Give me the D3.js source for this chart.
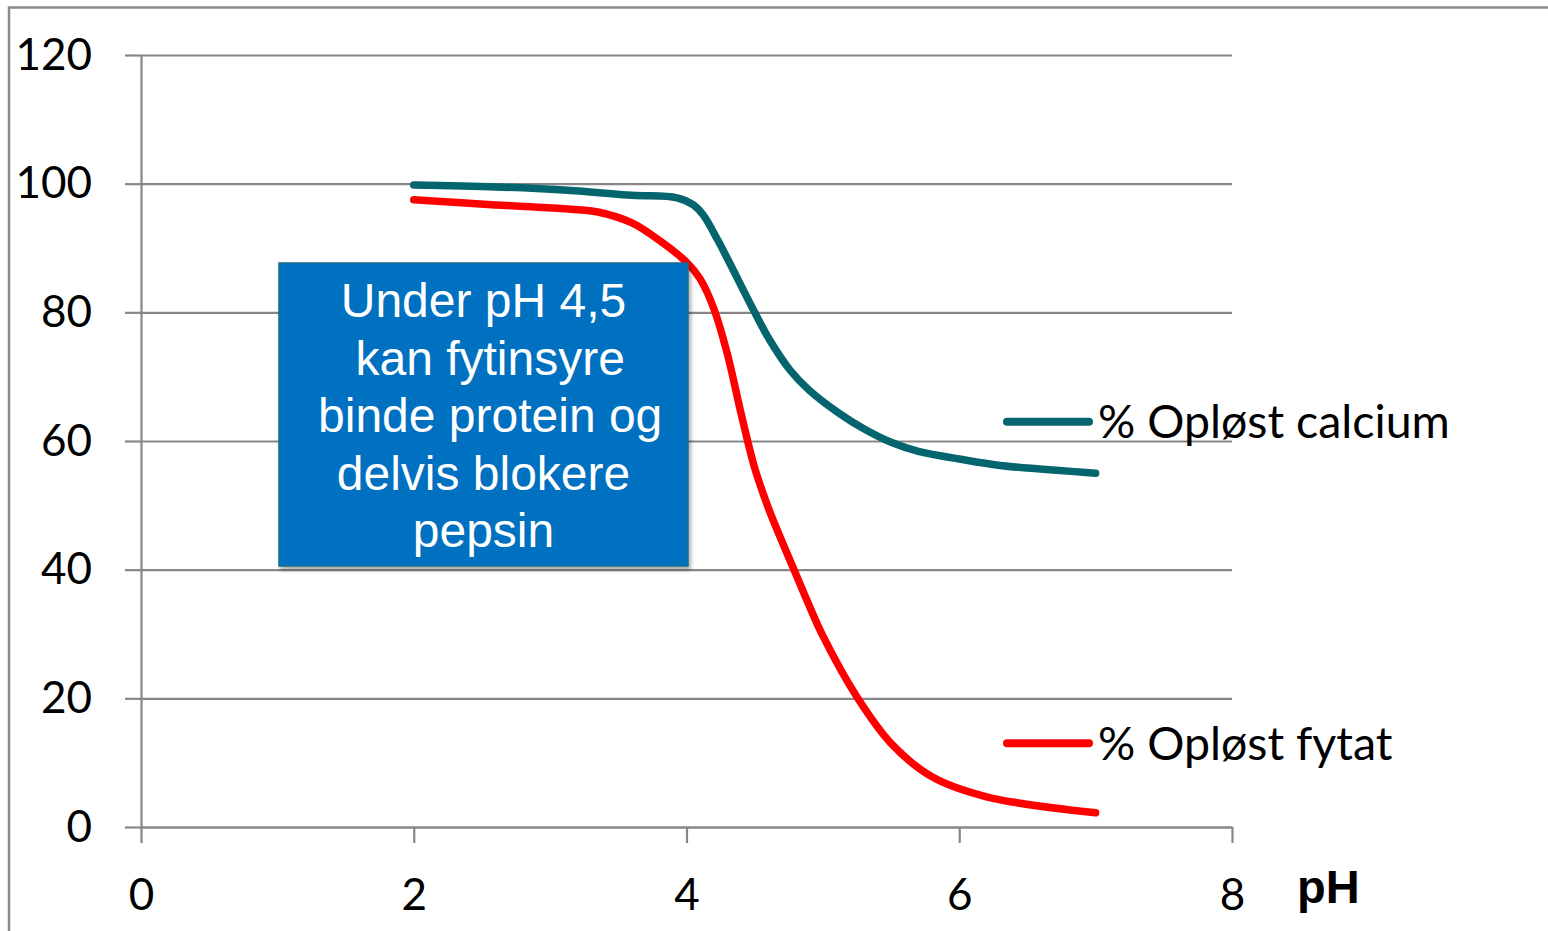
<!DOCTYPE html>
<html>
<head>
<meta charset="utf-8">
<script src="https://cdn.jsdelivr.net/npm/d3@7"></script>
<style>
  body { margin: 0; background: #fff; }
  svg { display: block; }
  .tick text { font-family: Lato, "Open Sans", sans-serif; font-size: 44px; fill: #000; }
</style>
</head>
<body>
<div class="container"></div>
<script>
// values
let xTicks = [0, 2, 4, 6, 8]
let yTicks = [0, 20, 40, 60, 80, 100, 120]

let calciumPH = [2, 2.6, 3.1, 3.6, 3.93, 4.05, 4.12, 4.23, 4.5, 4.61, 4.76, 4.9, 5.12, 5.3, 5.5, 5.7, 6.0, 6.3, 7.0]
let calciumVal = [99.8, 99.5, 99.0, 98.2, 97.8, 96.7, 95.2, 91.2, 80.0, 75.7, 71.0, 67.9, 64.3, 61.9, 59.8, 58.4, 57.2, 56.2, 55]

let fytatPH = [2, 2.6, 3.1, 3.35, 3.6, 3.8, 4.0, 4.1, 4.2, 4.3, 4.4, 4.5, 4.6, 4.7, 4.8, 4.9, 5.0, 5.25, 5.5, 5.8, 6.2, 7.0]
let fytatVal = [97.5, 96.7, 96.1, 95.6, 93.9, 91.2, 87.8, 85.2, 80.6, 73.5, 64.3, 55.8, 49.6, 44.4, 39.4, 34.4, 29.7, 20.2, 13, 7.8, 4.7, 2.2]

let seriesNames = ['% Opløst calcium', '% Opløst fytat']
let seriesColors = ['#05656f', '#ff0000']
let legendY = [63, 13]   // legend row positions in data units

let noteLines = ['Under pH 4,5', ' kan fytinsyre', ' binde protein og', 'delvis blokere', 'pepsin']

let width = 1548
let height = 931
let margin = { top: 55, left: 141, right: 316, bottom: 104 }

let x = d3.scaleLinear().domain([0, 8]).range([margin.left, width - margin.right])
let y = d3.scaleLinear().domain([0, 120]).range([height - margin.bottom, margin.top])

let svg = d3.select('.container')
    .append('svg')
    .attr('width', width)
    .attr('height', height)

// outer chart frame
svg.append('rect')
    .attr('x', 9).attr('y', 7.5)
    .attr('width', width + 20).attr('height', height + 20)
    .attr('fill', 'none')
    .attr('stroke', '#8a8a8a')
    .attr('stroke-width', 2.5)

// horizontal gridlines
svg.append('g')
    .attr('transform', `translate(${margin.left},0)`)
    .call(d3.axisLeft(y).tickValues(yTicks).tickSize(-(x(8) - x(0))).tickFormat(''))
    .call(g => g.select('.domain').remove())
    .selectAll('line')
    .attr('stroke', '#878787')
    .attr('stroke-width', 2.2)

// y axis
svg.append('g')
    .attr('transform', `translate(${margin.left},0)`)
    .call(d3.axisLeft(y).tickValues(yTicks).tickSize(16).tickSizeOuter(0).tickPadding(33))
    .call(g => g.selectAll('line, .domain').attr('stroke', '#878787').attr('stroke-width', 2.2))

// x axis
svg.append('g')
    .attr('transform', `translate(0,${y(0)})`)
    .call(d3.axisBottom(x).tickValues(xTicks).tickSize(16).tickSizeOuter(0).tickPadding(36))
    .call(g => g.selectAll('line, .domain').attr('stroke', '#878787').attr('stroke-width', 2.2))

svg.append('text')
    .attr('x', 1297)
    .attr('y', 903)
    .attr('font-family', '"Liberation Sans", Arial, sans-serif')
    .attr('font-weight', 'bold')
    .attr('font-size', 47)
    .text('pH')

// lines
let line = d3.line()
    .x(d => x(d[0]))
    .y(d => y(d[1]))
    .curve(d3.curveCatmullRom.alpha(0.5))

let series = [
    d3.zip(calciumPH, calciumVal),
    d3.zip(fytatPH, fytatVal)
]

svg.selectAll('path.series')
    .data(series)
    .enter()
    .append('path')
    .attr('class', 'series')
    .attr('d', line)
    .attr('fill', 'none')
    .attr('stroke', (d, i) => seriesColors[i])
    .attr('stroke-width', 7.5)
    .attr('stroke-linecap', 'round')
    .attr('stroke-linejoin', 'round')

// legend
let legend = svg.selectAll('g.legend')
    .data(seriesNames)
    .enter()
    .append('g')
    .attr('class', 'legend')
    .attr('transform', (d, i) => `translate(0,${y(legendY[i])})`)

legend.append('line')
    .attr('x1', 1007).attr('x2', 1089)
    .attr('stroke', (d, i) => seriesColors[i])
    .attr('stroke-width', 8)
    .attr('stroke-linecap', 'round')

legend.append('text')
    .attr('x', 1098)
    .attr('dy', '0.35em')
    .attr('font-family', 'Lato, "Open Sans", sans-serif')
    .attr('font-size', 46.5)
    .text(d => d)

// note box
let filter = svg.append('defs').append('filter')
    .attr('id', 'shadow')
    .attr('x', '-10%').attr('y', '-10%')
    .attr('width', '120%').attr('height', '120%')
filter.append('feDropShadow')
    .attr('dx', 2).attr('dy', 3)
    .attr('stdDeviation', 2)
    .attr('flood-color', '#000')
    .attr('flood-opacity', 0.35)

svg.append('rect')
    .attr('x', 279).attr('y', 263)
    .attr('width', 409).attr('height', 303)
    .attr('fill', '#0070c0')
    .attr('stroke', '#1d6b8c')
    .attr('stroke-width', 1.5)
    .attr('filter', 'url(#shadow)')

svg.append('text')
    .attr('font-family', '"Liberation Sans", Arial, sans-serif')
    .attr('font-size', 48)
    .attr('fill', '#fff')
    .attr('text-anchor', 'middle')
    .style('white-space', 'pre')
    .selectAll('tspan')
    .data(noteLines)
    .enter()
    .append('tspan')
    .attr('x', 483.5)
    .attr('y', (d, i) => 317 + i * 57.5)
    .text(d => d)
</script>
</body>
</html>
